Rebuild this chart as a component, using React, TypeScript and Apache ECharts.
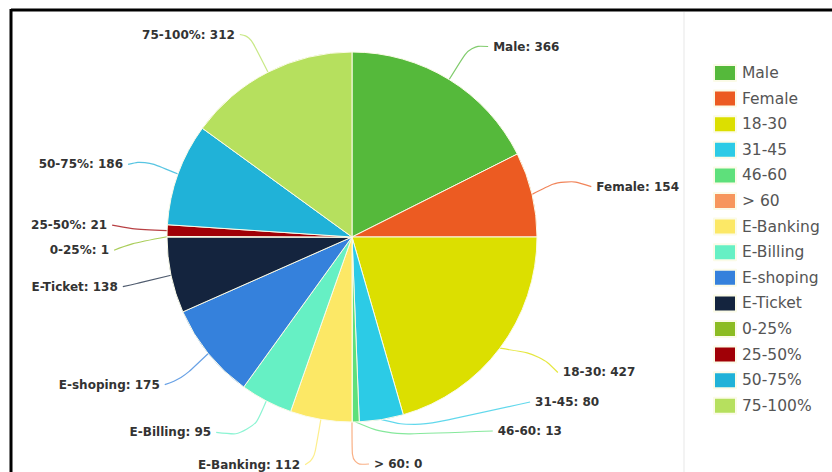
import React, { useEffect, useRef } from "react";
import * as echarts from "echarts";

const categories = ["Male", "Female", "18-30", "31-45", "46-60", "> 60", "E-Banking", "E-Billing", "E-shoping", "E-Ticket", "0-25%", "25-50%", "50-75%", "75-100%"];
const values = [366, 154, 427, 80, 13, 0, 112, 95, 175, 138, 1, 21, 186, 312];
const colors = ["#55b93b", "#ec5b22", "#dcdf00", "#2ccbe6", "#5ee07b", "#f7965c", "#fce866", "#66f0c4", "#3581dc", "#14243e", "#8cbc22", "#a00006", "#20b2d8", "#b6e05e"];

// label nudges and connector elbow fractions (style only)
const labelDx = [6, 15, 6, 63, 56, 5, 3, -23, -5, -2, -6, -8, -5, 2];
const labelDy = [1, 9, 18, -35, -20, -1, 6, -4, 6, 3, 7, -4, 4, -2];
const labelElbow = [1, 1, 1, 0.45, 0.45, 1, 1, 1, 1, 1, 1, 1, 1, 1];

export default function App() {
  const ref = useRef<HTMLDivElement>(null);
  useEffect(() => {
    const chart = echarts.init(ref.current!, null, { renderer: "svg" });
    chart.setOption({
      animation: false,
      backgroundColor: "#ffffff",
      color: colors,
      graphic: [
        { type: "line", shape: { x1: 11, y1: 10, x2: 832, y2: 10 }, style: { stroke: "#000", lineWidth: 3 } },
        { type: "line", shape: { x1: 11, y1: 9, x2: 11, y2: 472 }, style: { stroke: "#000", lineWidth: 3 } },
        { type: "line", shape: { x1: 684, y1: 12, x2: 684, y2: 472 }, style: { stroke: "#f3f3f3", lineWidth: 2 } },
      ],
      legend: {
        orient: "vertical",
        left: 708,
        top: 59,
        itemWidth: 22,
        itemHeight: 16,
        itemGap: 7.6,
        icon: "rect",
        data: categories,
        textStyle: { fontSize: 15.5, color: "#555", fontFamily: "DejaVu Sans", padding: [0, 0, 0, 1] },
      },
      series: [
        {
          type: "pie",
          center: [352, 237],
          radius: 185,
          startAngle: 90,
          clockwise: true,
          minAngle: 0,
          stillShowZeroSum: true,
          avoidLabelOverlap: true,
          itemStyle: { borderColor: "#fbfbe8", borderWidth: 1 },
          label: {
            show: true,
            formatter: "{b}: {c}",
            fontFamily: "DejaVu Sans",
            fontWeight: "bold",
            fontSize: 12,
            color: "#333",
          },
          labelLine: { show: true, length: 40, length2: 12, smooth: 0.4, lineStyle: { width: 1.2, opacity: 0.75 } },
          labelLayout: (p: any) => {
            const i = p.dataIndex;
            const dx = labelDx[i];
            const dy = labelDy[i];
            const pts = p.labelLinePoints;
            if (!pts || pts.length < 3) return { dx, dy };
            const f = labelElbow[i];
            const p1 = [pts[0][0] + (pts[1][0] - pts[0][0]) * f, pts[0][1] + (pts[1][1] - pts[0][1]) * f];
            const p2 = [pts[2][0] + dx, pts[2][1] + dy];
            return { dx, dy, labelLinePoints: [pts[0], p1, p2] };
          },
          emphasis: { disabled: true },
          data: categories.map((n, i) => ({ name: n, value: values[i] })),
        },
      ],
    });
    return () => chart.dispose();
  }, []);
  return <div ref={ref} style={{ position: "fixed", left: 0, top: 0, width: 832, height: 472 }} />;
}
